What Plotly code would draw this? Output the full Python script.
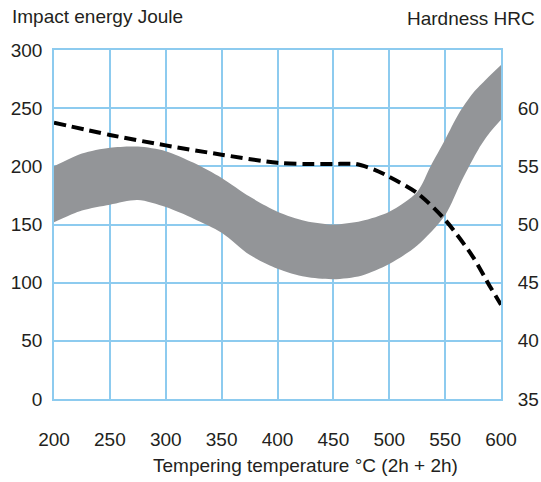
import plotly.graph_objects as go

# Impact energy band (Joule, left axis)
band_temp = [200, 225, 250, 275, 300, 325, 350, 375, 400, 425, 450, 475, 500, 525, 537, 550, 562, 575, 587, 600]
band_upper = [200, 211, 216, 217, 213, 203, 190, 174, 161, 153, 150, 153, 161, 178, 200, 223, 245, 263, 275, 287]
band_lower_temp = [200, 225, 250, 275, 300, 325, 350, 375, 400, 425, 450, 475, 500, 525, 550, 565, 580, 590, 600]
band_lower = [152, 162, 167, 171, 165, 155, 143, 124, 112, 105, 103, 106, 116, 132, 158, 188, 215, 229, 240]

# Hardness HRC (right axis)
hrc_temp = [200, 250, 300, 350, 400, 425, 450, 470, 487, 500, 525, 550, 575, 590, 600]
hrc_vals = [58.75, 57.7, 56.8, 56.0, 55.3, 55.2, 55.2, 55.2, 54.7, 54.1, 52.7, 50.4, 47.2, 44.7, 43.1]

x_ticks = [200, 250, 300, 350, 400, 450, 500, 550, 600]
y_ticks = [0, 50, 100, 150, 200, 250, 300]
y2_ticks = [35, 40, 45, 50, 55, 60]

GRID = "#8dcbef"
TXT = "#231f20"
BAND = "#939598"
FONT = "Liberation Sans, Arial, Helvetica, sans-serif"
FS = 19

fig = go.Figure()

fig.add_trace(go.Scatter(
    x=hrc_temp, y=hrc_vals, yaxis="y2", mode="lines",
    line=dict(color="black", width=4, dash="12px,6px", shape="spline", smoothing=0.8),
    hoverinfo="skip", showlegend=False))

fig.add_trace(go.Scatter(
    x=band_lower_temp, y=band_lower, mode="lines",
    line=dict(color=BAND, width=0, shape="spline", smoothing=0.8),
    hoverinfo="skip", showlegend=False))
fig.add_trace(go.Scatter(
    x=band_temp, y=band_upper, mode="lines", fill="tonexty", fillcolor=BAND,
    line=dict(color=BAND, width=0, shape="spline", smoothing=0.8),
    hoverinfo="skip", showlegend=False))

fig.update_layout(
    width=541, height=482,
    margin=dict(l=54, r=40, t=50, b=83, pad=0),
    paper_bgcolor="white", plot_bgcolor="white",
    font=dict(family=FONT, size=FS, color=TXT),
    xaxis=dict(range=[200, 600], tickvals=x_ticks, showgrid=True, gridcolor=GRID, gridwidth=1.5,
               zeroline=False, showline=True, mirror=True, linecolor=GRID, linewidth=1.5,
               ticks="outside", ticklen=22, tickcolor="rgba(0,0,0,0)", automargin=False,
               tickfont=dict(family=FONT, size=FS, color=TXT)),
    yaxis=dict(range=[0, 300], tickvals=y_ticks, showgrid=True, gridcolor=GRID, gridwidth=1.5,
               zeroline=False, showline=True, mirror=True, linecolor=GRID, linewidth=1.5,
               ticks="outside", ticklen=6, tickcolor="rgba(0,0,0,0)", automargin=False,
               tickfont=dict(family=FONT, size=FS, color=TXT)),
    yaxis2=dict(range=[35, 65], tickvals=y2_ticks, overlaying="y", side="right", showgrid=False,
                zeroline=False, showline=False, automargin=False,
                ticks="outside", ticklen=12, tickcolor="rgba(0,0,0,0)",
                tickfont=dict(family=FONT, size=FS, color=TXT)),
    annotations=[
        dict(text="Impact energy Joule", xref="paper", yref="paper", x=(10 - 54) / 447, y=(399 - 17) / 349,
             xanchor="left", yanchor="middle", showarrow=False, font=dict(family=FONT, size=FS, color=TXT)),
        dict(text="Hardness HRC", xref="paper", yref="paper", x=(537 - 54) / 447, y=(399 - 19) / 349,
             xanchor="right", yanchor="middle", showarrow=False, font=dict(family=FONT, size=FS, color=TXT)),
        dict(text="Tempering temperature °C (2h + 2h)", xref="paper", yref="paper", x=(305.5 - 54) / 447,
             y=(399 - 465) / 349, xanchor="center", yanchor="middle", showarrow=False,
             font=dict(family=FONT, size=FS, color=TXT)),
    ],
)

fig.write_html("out.html", config={"displayModeBar": False},
               post_script="document.body.style.margin='0';")
